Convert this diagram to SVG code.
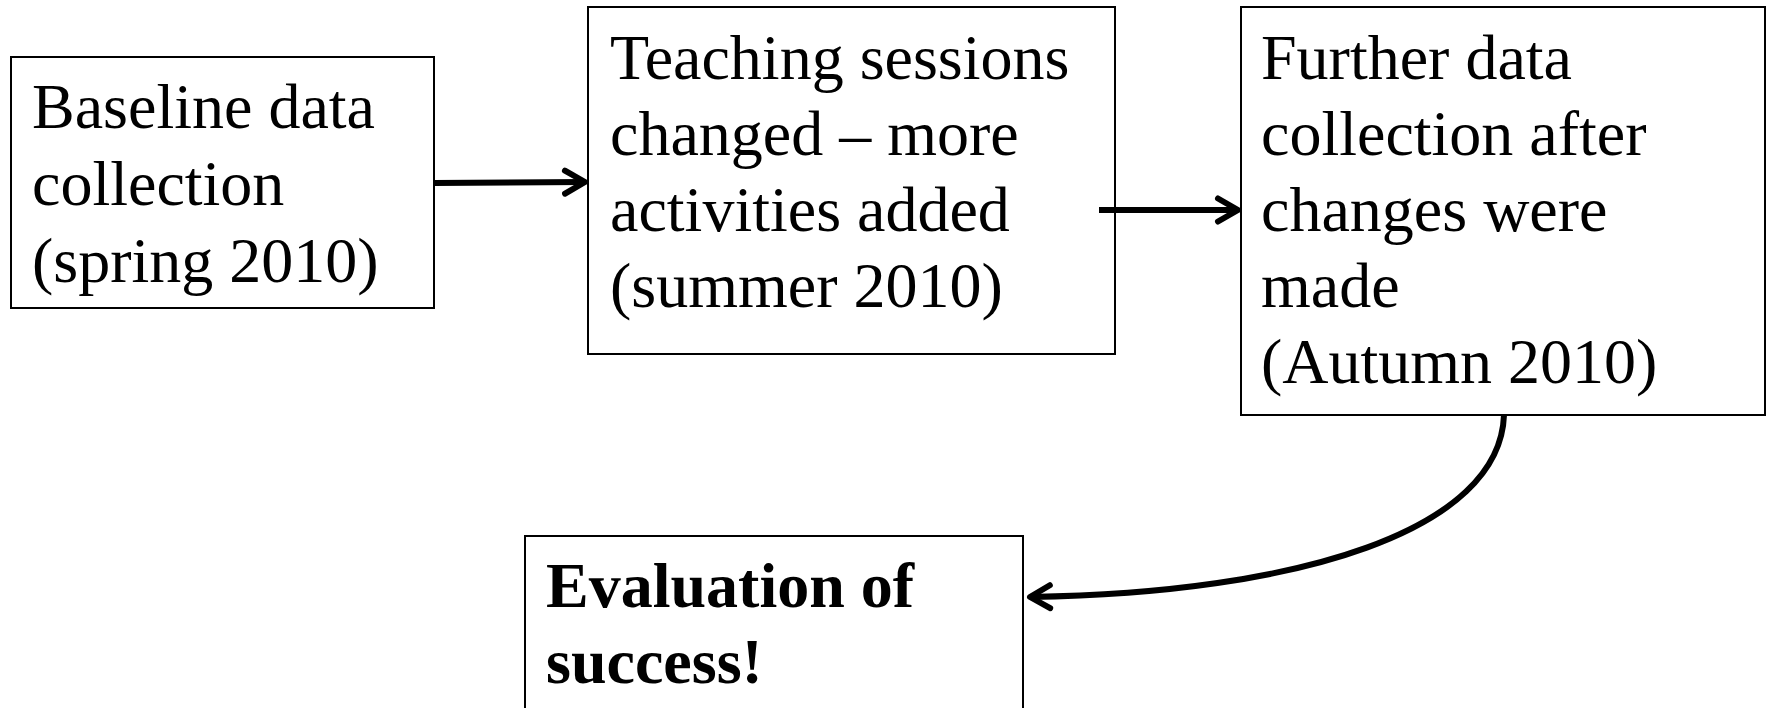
<svg xmlns="http://www.w3.org/2000/svg" width="1771" height="708" viewBox="0 0 1771 708">
<style>
.box{fill:#fff;stroke:#000;stroke-width:2}
.t{font-family:"Liberation Serif","Times New Roman",serif;font-size:64px;fill:#000}
.b{font-weight:bold}
.c{fill:none;stroke:#000;stroke-width:6}
</style>
<defs>
<marker id="ah" markerWidth="12" markerHeight="12" refX="9" refY="6" orient="auto" markerUnits="userSpaceOnUse" viewBox="0 0 12 12" overflow="visible">
<path d="M-11,-5.5 L9,6 L-11,17.5" fill="none" stroke="#000" stroke-width="6" stroke-linecap="round" stroke-linejoin="round"/>
</marker>
</defs>
<rect width="1771" height="708" fill="#fff"/>
<g id="node1">
<rect class="box" x="11" y="57" width="423" height="251"/>
<text class="t"><tspan x="32" y="128">Baseline data</tspan><tspan x="32" y="205">collection</tspan><tspan x="32" y="282">(spring 2010)</tspan></text>
</g>
<g id="node2">
<rect class="box" x="588" y="7" width="527" height="347"/>
<text class="t"><tspan x="610" y="79">Teaching sessions</tspan><tspan x="610" y="155">changed – more</tspan><tspan x="610" y="231">activities added</tspan><tspan x="610" y="307">(summer 2010)</tspan></text>
</g>
<g id="node3">
<rect class="box" x="1241" y="7" width="524" height="408"/>
<text class="t"><tspan x="1261" y="79">Further data</tspan><tspan x="1261" y="155">collection after</tspan><tspan x="1261" y="231">changes were</tspan><tspan x="1261" y="307">made</tspan><tspan x="1261" y="383">(Autumn 2010)</tspan></text>
</g>
<g id="node4">
<rect class="box" x="525" y="536" width="498" height="190"/>
<text class="t b"><tspan x="546" y="607">Evaluation of</tspan><tspan x="546" y="683">success!</tspan></text>
</g>
<g id="connectors">
<path class="c" d="M434,183 L585,182" marker-end="url(#ah)"/>
<path class="c" d="M1099,210 L1238,210" marker-end="url(#ah)"/>
<path class="c" d="M1504,415 C1500,530 1300,593 1030,597" marker-end="url(#ah)"/>
</g>
</svg>
